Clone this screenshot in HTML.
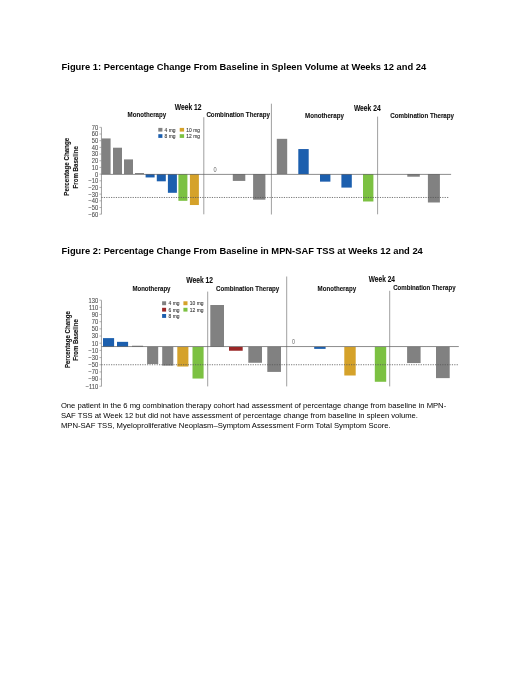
<!DOCTYPE html>
<html><head><meta charset="utf-8"><title>Figures</title>
<style>
html,body{margin:0;padding:0;background:#fff;}
svg{display:block;font-family:"Liberation Sans",sans-serif;}
text{white-space:pre;}
</style></head>
<body>
<svg width="520" height="673" viewBox="0 0 520 673">
<defs><filter id="soft" x="0" y="0" width="520" height="673" filterUnits="userSpaceOnUse"><feGaussianBlur stdDeviation="0.45"/></filter></defs>
<rect width="520" height="673" fill="#ffffff"/>
<text x="61.6" y="70" font-size="9.35" font-weight="bold" fill="#000" text-anchor="start" textLength="364.6" lengthAdjust="spacingAndGlyphs">Figure 1: Percentage Change From Baseline in Spleen Volume at Weeks 12 and 24</text>
<text x="61.6" y="253.7" font-size="9.35" font-weight="bold" fill="#000" text-anchor="start" textLength="361.2" lengthAdjust="spacingAndGlyphs">Figure 2: Percentage Change From Baseline in MPN-SAF TSS at Weeks 12 and 24</text>
<g id="fig1" filter="url(#soft)">
<text x="98.15" y="129.73999999999998" font-size="7.4" font-weight="normal" fill="#505050" text-anchor="end" textLength="6.42" lengthAdjust="spacingAndGlyphs" stroke="#505050" stroke-width="0.12">70</text>
<text x="98.15" y="136.42" font-size="7.4" font-weight="normal" fill="#505050" text-anchor="end" textLength="6.42" lengthAdjust="spacingAndGlyphs" stroke="#505050" stroke-width="0.12">60</text>
<text x="98.15" y="143.1" font-size="7.4" font-weight="normal" fill="#505050" text-anchor="end" textLength="6.42" lengthAdjust="spacingAndGlyphs" stroke="#505050" stroke-width="0.12">50</text>
<text x="98.15" y="149.78" font-size="7.4" font-weight="normal" fill="#505050" text-anchor="end" textLength="6.42" lengthAdjust="spacingAndGlyphs" stroke="#505050" stroke-width="0.12">40</text>
<text x="98.15" y="156.46" font-size="7.4" font-weight="normal" fill="#505050" text-anchor="end" textLength="6.42" lengthAdjust="spacingAndGlyphs" stroke="#505050" stroke-width="0.12">30</text>
<text x="98.15" y="163.14" font-size="7.4" font-weight="normal" fill="#505050" text-anchor="end" textLength="6.42" lengthAdjust="spacingAndGlyphs" stroke="#505050" stroke-width="0.12">20</text>
<text x="98.15" y="169.82" font-size="7.4" font-weight="normal" fill="#505050" text-anchor="end" textLength="6.42" lengthAdjust="spacingAndGlyphs" stroke="#505050" stroke-width="0.12">10</text>
<text x="98.15" y="176.5" font-size="7.4" font-weight="normal" fill="#505050" text-anchor="end" textLength="3.21" lengthAdjust="spacingAndGlyphs" stroke="#505050" stroke-width="0.12">0</text>
<text x="98.15" y="183.18" font-size="7.4" font-weight="normal" fill="#505050" text-anchor="end" textLength="9.79" lengthAdjust="spacingAndGlyphs" stroke="#505050" stroke-width="0.12">−10</text>
<text x="98.15" y="189.86" font-size="7.4" font-weight="normal" fill="#505050" text-anchor="end" textLength="9.79" lengthAdjust="spacingAndGlyphs" stroke="#505050" stroke-width="0.12">−20</text>
<text x="98.15" y="196.54" font-size="7.4" font-weight="normal" fill="#505050" text-anchor="end" textLength="9.79" lengthAdjust="spacingAndGlyphs" stroke="#505050" stroke-width="0.12">−30</text>
<text x="98.15" y="203.22" font-size="7.4" font-weight="normal" fill="#505050" text-anchor="end" textLength="9.79" lengthAdjust="spacingAndGlyphs" stroke="#505050" stroke-width="0.12">−40</text>
<text x="98.15" y="209.9" font-size="7.4" font-weight="normal" fill="#505050" text-anchor="end" textLength="9.79" lengthAdjust="spacingAndGlyphs" stroke="#505050" stroke-width="0.12">−50</text>
<text x="98.15" y="216.58" font-size="7.4" font-weight="normal" fill="#505050" text-anchor="end" textLength="9.79" lengthAdjust="spacingAndGlyphs" stroke="#505050" stroke-width="0.12">−60</text>
<g transform="translate(69.3,166.8) rotate(-90)">
<text x="0" y="0" font-size="7.8" font-weight="bold" fill="#111111" text-anchor="middle" textLength="57.8" lengthAdjust="spacingAndGlyphs" stroke="#111111" stroke-width="0.12">Percentage Change</text>
</g>
<g transform="translate(78.4,167.3) rotate(-90)">
<text x="0" y="0" font-size="7.8" font-weight="bold" fill="#111111" text-anchor="middle" textLength="42.3" lengthAdjust="spacingAndGlyphs" stroke="#111111" stroke-width="0.12">From Baseline</text>
</g>
<text x="174.7" y="110.1" font-size="8.2" font-weight="bold" fill="#111111" text-anchor="start" textLength="26.79" lengthAdjust="spacingAndGlyphs" stroke="#111111" stroke-width="0.1">Week 12</text>
<text x="353.9" y="110.6" font-size="8.2" font-weight="bold" fill="#111111" text-anchor="start" textLength="26.79" lengthAdjust="spacingAndGlyphs" stroke="#111111" stroke-width="0.1">Week 24</text>
<text x="127.6" y="116.8" font-size="7.4" font-weight="bold" fill="#111111" text-anchor="start" textLength="38.56" lengthAdjust="spacingAndGlyphs" stroke="#111111" stroke-width="0.1">Monotherapy</text>
<text x="206.4" y="116.8" font-size="7.4" font-weight="bold" fill="#111111" text-anchor="start" textLength="63.51" lengthAdjust="spacingAndGlyphs" stroke="#111111" stroke-width="0.1">Combination Therapy</text>
<text x="305.1" y="118.3" font-size="7.4" font-weight="bold" fill="#111111" text-anchor="start" textLength="38.79" lengthAdjust="spacingAndGlyphs" stroke="#111111" stroke-width="0.1">Monotherapy</text>
<text x="390.3" y="118.3" font-size="7.4" font-weight="bold" fill="#111111" text-anchor="start" textLength="63.74" lengthAdjust="spacingAndGlyphs" stroke="#111111" stroke-width="0.1">Combination Therapy</text>
<rect x="158.30" y="127.90" width="4.10" height="3.70" fill="#818181"/>
<text x="164.6" y="131.8" font-size="6.0" font-weight="normal" fill="#3a3a3a" text-anchor="start" textLength="10.94" lengthAdjust="spacingAndGlyphs" stroke="#3a3a3a" stroke-width="0.12">4 mg</text>
<rect x="179.70" y="127.90" width="4.40" height="3.70" fill="#d5a22c"/>
<text x="186.3" y="131.8" font-size="6.0" font-weight="normal" fill="#3a3a3a" text-anchor="start" textLength="13.67" lengthAdjust="spacingAndGlyphs" stroke="#3a3a3a" stroke-width="0.12">10 mg</text>
<rect x="158.30" y="134.20" width="4.10" height="3.70" fill="#1c5fae"/>
<text x="164.6" y="138.0" font-size="6.0" font-weight="normal" fill="#3a3a3a" text-anchor="start" textLength="10.94" lengthAdjust="spacingAndGlyphs" stroke="#3a3a3a" stroke-width="0.12">8 mg</text>
<rect x="179.70" y="134.20" width="4.40" height="3.70" fill="#7cc142"/>
<text x="186.3" y="138.0" font-size="6.0" font-weight="normal" fill="#3a3a3a" text-anchor="start" textLength="13.67" lengthAdjust="spacingAndGlyphs" stroke="#3a3a3a" stroke-width="0.12">12 mg</text>
<rect x="101.60" y="138.43" width="9.00" height="35.67" fill="#818181"/>
<rect x="113.00" y="147.71" width="9.00" height="26.39" fill="#818181"/>
<rect x="124.00" y="159.40" width="9.00" height="14.70" fill="#818181"/>
<rect x="135.00" y="173.03" width="9.00" height="1.07" fill="#818181"/>
<rect x="145.60" y="174.10" width="9.00" height="3.34" fill="#1c5fae"/>
<rect x="156.80" y="174.10" width="9.00" height="7.21" fill="#1c5fae"/>
<rect x="167.90" y="174.10" width="9.00" height="18.70" fill="#1c5fae"/>
<rect x="178.40" y="174.10" width="9.00" height="26.72" fill="#7cc142"/>
<rect x="189.90" y="174.10" width="9.00" height="30.93" fill="#d5a22c"/>
<text x="213.5" y="172.1" font-size="6.3" font-weight="normal" fill="#666666" text-anchor="start" textLength="3.15" lengthAdjust="spacingAndGlyphs" stroke="#666666" stroke-width="0">0</text>
<rect x="232.80" y="174.10" width="12.50" height="6.81" fill="#818181"/>
<rect x="253.10" y="174.10" width="12.30" height="25.58" fill="#818181"/>
<rect x="276.80" y="138.83" width="10.40" height="35.27" fill="#818181"/>
<rect x="298.30" y="149.05" width="10.40" height="25.05" fill="#1c5fae"/>
<rect x="320.00" y="174.10" width="10.40" height="7.55" fill="#1c5fae"/>
<rect x="341.40" y="174.10" width="10.40" height="13.49" fill="#1c5fae"/>
<rect x="363.00" y="174.10" width="10.40" height="27.39" fill="#7cc142"/>
<rect x="407.30" y="174.10" width="12.50" height="2.61" fill="#818181"/>
<rect x="427.90" y="174.10" width="12.00" height="28.39" fill="#818181"/>
</g>
<g id="fig2" filter="url(#soft)">
<text x="98.15" y="302.5625" font-size="7.4" font-weight="normal" fill="#505050" text-anchor="end" textLength="9.63" lengthAdjust="spacingAndGlyphs" stroke="#505050" stroke-width="0.12">130</text>
<text x="98.15" y="309.7375" font-size="7.4" font-weight="normal" fill="#505050" text-anchor="end" textLength="9.2" lengthAdjust="spacingAndGlyphs" stroke="#505050" stroke-width="0.12">110</text>
<text x="98.15" y="316.91249999999997" font-size="7.4" font-weight="normal" fill="#505050" text-anchor="end" textLength="6.42" lengthAdjust="spacingAndGlyphs" stroke="#505050" stroke-width="0.12">90</text>
<text x="98.15" y="324.0875" font-size="7.4" font-weight="normal" fill="#505050" text-anchor="end" textLength="6.42" lengthAdjust="spacingAndGlyphs" stroke="#505050" stroke-width="0.12">70</text>
<text x="98.15" y="331.2625" font-size="7.4" font-weight="normal" fill="#505050" text-anchor="end" textLength="6.42" lengthAdjust="spacingAndGlyphs" stroke="#505050" stroke-width="0.12">50</text>
<text x="98.15" y="338.4375" font-size="7.4" font-weight="normal" fill="#505050" text-anchor="end" textLength="6.42" lengthAdjust="spacingAndGlyphs" stroke="#505050" stroke-width="0.12">30</text>
<text x="98.15" y="345.6125" font-size="7.4" font-weight="normal" fill="#505050" text-anchor="end" textLength="6.42" lengthAdjust="spacingAndGlyphs" stroke="#505050" stroke-width="0.12">10</text>
<text x="98.15" y="352.78749999999997" font-size="7.4" font-weight="normal" fill="#505050" text-anchor="end" textLength="9.79" lengthAdjust="spacingAndGlyphs" stroke="#505050" stroke-width="0.12">−10</text>
<text x="98.15" y="359.9625" font-size="7.4" font-weight="normal" fill="#505050" text-anchor="end" textLength="9.79" lengthAdjust="spacingAndGlyphs" stroke="#505050" stroke-width="0.12">−30</text>
<text x="98.15" y="367.1375" font-size="7.4" font-weight="normal" fill="#505050" text-anchor="end" textLength="9.79" lengthAdjust="spacingAndGlyphs" stroke="#505050" stroke-width="0.12">−50</text>
<text x="98.15" y="374.3125" font-size="7.4" font-weight="normal" fill="#505050" text-anchor="end" textLength="9.79" lengthAdjust="spacingAndGlyphs" stroke="#505050" stroke-width="0.12">−70</text>
<text x="98.15" y="381.4875" font-size="7.4" font-weight="normal" fill="#505050" text-anchor="end" textLength="9.79" lengthAdjust="spacingAndGlyphs" stroke="#505050" stroke-width="0.12">−90</text>
<text x="98.15" y="388.66249999999997" font-size="7.4" font-weight="normal" fill="#505050" text-anchor="end" textLength="12.57" lengthAdjust="spacingAndGlyphs" stroke="#505050" stroke-width="0.12">−110</text>
<g transform="translate(69.5,339.6) rotate(-90)">
<text x="0" y="0" font-size="7.8" font-weight="bold" fill="#111111" text-anchor="middle" textLength="57.0" lengthAdjust="spacingAndGlyphs" stroke="#111111" stroke-width="0.12">Percentage Change</text>
</g>
<g transform="translate(78.4,340.0) rotate(-90)">
<text x="0" y="0" font-size="7.8" font-weight="bold" fill="#111111" text-anchor="middle" textLength="41.5" lengthAdjust="spacingAndGlyphs" stroke="#111111" stroke-width="0.12">From Baseline</text>
</g>
<text x="186.3" y="282.5" font-size="8.2" font-weight="bold" fill="#111111" text-anchor="start" textLength="26.79" lengthAdjust="spacingAndGlyphs" stroke="#111111" stroke-width="0.1">Week 12</text>
<text x="368.8" y="282.4" font-size="8.2" font-weight="bold" fill="#111111" text-anchor="start" textLength="26.14" lengthAdjust="spacingAndGlyphs" stroke="#111111" stroke-width="0.1">Week 24</text>
<text x="132.4" y="290.5" font-size="7.4" font-weight="bold" fill="#111111" text-anchor="start" textLength="38.1" lengthAdjust="spacingAndGlyphs" stroke="#111111" stroke-width="0.1">Monotherapy</text>
<text x="216.0" y="290.5" font-size="7.4" font-weight="bold" fill="#111111" text-anchor="start" textLength="63.28" lengthAdjust="spacingAndGlyphs" stroke="#111111" stroke-width="0.1">Combination Therapy</text>
<text x="317.6" y="290.5" font-size="7.4" font-weight="bold" fill="#111111" text-anchor="start" textLength="38.47" lengthAdjust="spacingAndGlyphs" stroke="#111111" stroke-width="0.1">Monotherapy</text>
<text x="393.2" y="290.0" font-size="7.4" font-weight="bold" fill="#111111" text-anchor="start" textLength="62.37" lengthAdjust="spacingAndGlyphs" stroke="#111111" stroke-width="0.1">Combination Therapy</text>
<rect x="162.10" y="301.30" width="4.00" height="3.90" fill="#818181"/>
<text x="168.6" y="305.3" font-size="6.0" font-weight="normal" fill="#3a3a3a" text-anchor="start" textLength="10.94" lengthAdjust="spacingAndGlyphs" stroke="#3a3a3a" stroke-width="0.12">4 mg</text>
<rect x="183.40" y="301.30" width="4.10" height="3.90" fill="#d5a22c"/>
<text x="189.8" y="305.3" font-size="6.0" font-weight="normal" fill="#3a3a3a" text-anchor="start" textLength="13.67" lengthAdjust="spacingAndGlyphs" stroke="#3a3a3a" stroke-width="0.12">10 mg</text>
<rect x="162.10" y="307.80" width="4.00" height="3.80" fill="#9b2828"/>
<text x="168.6" y="311.8" font-size="6.0" font-weight="normal" fill="#3a3a3a" text-anchor="start" textLength="10.94" lengthAdjust="spacingAndGlyphs" stroke="#3a3a3a" stroke-width="0.12">6 mg</text>
<rect x="183.40" y="307.80" width="4.10" height="3.80" fill="#7cc142"/>
<text x="189.8" y="311.8" font-size="6.0" font-weight="normal" fill="#3a3a3a" text-anchor="start" textLength="13.67" lengthAdjust="spacingAndGlyphs" stroke="#3a3a3a" stroke-width="0.12">12 mg</text>
<rect x="162.10" y="314.00" width="4.00" height="3.90" fill="#1c5fae"/>
<text x="168.6" y="318.2" font-size="6.0" font-weight="normal" fill="#3a3a3a" text-anchor="start" textLength="10.94" lengthAdjust="spacingAndGlyphs" stroke="#3a3a3a" stroke-width="0.12">8 mg</text>
<rect x="103.00" y="338.12" width="11.10" height="8.68" fill="#1c5fae"/>
<rect x="117.00" y="341.85" width="11.10" height="4.95" fill="#1c5fae"/>
<rect x="132.00" y="345.72" width="11.10" height="1.08" fill="#818181"/>
<rect x="147.10" y="346.80" width="11.10" height="17.22" fill="#818181"/>
<rect x="162.20" y="346.80" width="11.10" height="18.83" fill="#818181"/>
<rect x="177.30" y="346.80" width="11.10" height="19.73" fill="#d5a22c"/>
<rect x="192.50" y="346.80" width="11.10" height="31.75" fill="#7cc142"/>
<rect x="210.30" y="305.01" width="13.70" height="41.79" fill="#818181"/>
<rect x="229.00" y="346.80" width="13.70" height="3.95" fill="#9b2828"/>
<rect x="248.30" y="346.80" width="13.70" height="15.96" fill="#818181"/>
<rect x="267.30" y="346.80" width="13.70" height="25.11" fill="#818181"/>
<text x="292.0" y="344.0" font-size="6.3" font-weight="normal" fill="#666666" text-anchor="start" textLength="2.98" lengthAdjust="spacingAndGlyphs" stroke="#666666" stroke-width="0">0</text>
<rect x="314.20" y="346.80" width="11.40" height="2.08" fill="#1c5fae"/>
<rect x="344.30" y="346.80" width="11.40" height="28.70" fill="#d5a22c"/>
<rect x="374.80" y="346.80" width="11.40" height="34.98" fill="#7cc142"/>
<rect x="407.10" y="346.80" width="13.50" height="16.25" fill="#818181"/>
<rect x="436.00" y="346.80" width="13.70" height="31.32" fill="#818181"/>
</g>
<text x="60.9" y="408.2" font-size="7.63" font-weight="normal" fill="#000" text-anchor="start" textLength="385.3" lengthAdjust="spacingAndGlyphs">One patient in the 6 mg combination therapy cohort had assessment of percentage change from baseline in MPN-</text>
<text x="60.9" y="418.2" font-size="7.63" font-weight="normal" fill="#000" text-anchor="start" textLength="357.1" lengthAdjust="spacingAndGlyphs">SAF TSS at Week 12 but did not have assessment of percentage change from baseline in spleen volume.</text>
<text x="60.9" y="428.2" font-size="7.63" font-weight="normal" fill="#000" text-anchor="start" textLength="329.8" lengthAdjust="spacingAndGlyphs">MPN-SAF TSS, Myeloproliferative Neoplasm–Symptom Assessment Form Total Symptom Score.</text>
<g id="rules">
<line x1="101.45" y1="127.40" x2="101.45" y2="214.30" stroke="#808080" stroke-width="0.75"/>
<line x1="99.45" y1="127.34" x2="101.45" y2="127.34" stroke="#808080" stroke-width="0.6"/>
<line x1="99.45" y1="134.02" x2="101.45" y2="134.02" stroke="#808080" stroke-width="0.6"/>
<line x1="99.45" y1="140.70" x2="101.45" y2="140.70" stroke="#808080" stroke-width="0.6"/>
<line x1="99.45" y1="147.38" x2="101.45" y2="147.38" stroke="#808080" stroke-width="0.6"/>
<line x1="99.45" y1="154.06" x2="101.45" y2="154.06" stroke="#808080" stroke-width="0.6"/>
<line x1="99.45" y1="160.74" x2="101.45" y2="160.74" stroke="#808080" stroke-width="0.6"/>
<line x1="99.45" y1="167.42" x2="101.45" y2="167.42" stroke="#808080" stroke-width="0.6"/>
<line x1="99.45" y1="174.10" x2="101.45" y2="174.10" stroke="#808080" stroke-width="0.6"/>
<line x1="99.45" y1="180.78" x2="101.45" y2="180.78" stroke="#808080" stroke-width="0.6"/>
<line x1="99.45" y1="187.46" x2="101.45" y2="187.46" stroke="#808080" stroke-width="0.6"/>
<line x1="99.45" y1="194.14" x2="101.45" y2="194.14" stroke="#808080" stroke-width="0.6"/>
<line x1="99.45" y1="200.82" x2="101.45" y2="200.82" stroke="#808080" stroke-width="0.6"/>
<line x1="99.45" y1="207.50" x2="101.45" y2="207.50" stroke="#808080" stroke-width="0.6"/>
<line x1="99.45" y1="214.18" x2="101.45" y2="214.18" stroke="#808080" stroke-width="0.6"/>
<line x1="203.80" y1="117.20" x2="203.80" y2="214.30" stroke="#808080" stroke-width="0.75"/>
<line x1="271.40" y1="103.70" x2="271.40" y2="214.50" stroke="#808080" stroke-width="0.75"/>
<line x1="377.60" y1="116.60" x2="377.60" y2="214.30" stroke="#808080" stroke-width="0.75"/>
<line x1="101.45" y1="174.40" x2="451.10" y2="174.40" stroke="#606060" stroke-width="0.72"/>
<line x1="101.45" y1="197.48" x2="449.00" y2="197.48" stroke="#555" stroke-width="0.8" stroke-dasharray="1.2 1.2"/>
<line x1="101.45" y1="300.30" x2="101.45" y2="386.40" stroke="#808080" stroke-width="0.75"/>
<line x1="99.45" y1="300.16" x2="101.45" y2="300.16" stroke="#808080" stroke-width="0.6"/>
<line x1="99.45" y1="307.34" x2="101.45" y2="307.34" stroke="#808080" stroke-width="0.6"/>
<line x1="99.45" y1="314.51" x2="101.45" y2="314.51" stroke="#808080" stroke-width="0.6"/>
<line x1="99.45" y1="321.69" x2="101.45" y2="321.69" stroke="#808080" stroke-width="0.6"/>
<line x1="99.45" y1="328.86" x2="101.45" y2="328.86" stroke="#808080" stroke-width="0.6"/>
<line x1="99.45" y1="336.04" x2="101.45" y2="336.04" stroke="#808080" stroke-width="0.6"/>
<line x1="99.45" y1="343.21" x2="101.45" y2="343.21" stroke="#808080" stroke-width="0.6"/>
<line x1="99.45" y1="350.39" x2="101.45" y2="350.39" stroke="#808080" stroke-width="0.6"/>
<line x1="99.45" y1="357.56" x2="101.45" y2="357.56" stroke="#808080" stroke-width="0.6"/>
<line x1="99.45" y1="364.74" x2="101.45" y2="364.74" stroke="#808080" stroke-width="0.6"/>
<line x1="99.45" y1="371.91" x2="101.45" y2="371.91" stroke="#808080" stroke-width="0.6"/>
<line x1="99.45" y1="379.09" x2="101.45" y2="379.09" stroke="#808080" stroke-width="0.6"/>
<line x1="99.45" y1="386.26" x2="101.45" y2="386.26" stroke="#808080" stroke-width="0.6"/>
<line x1="207.70" y1="291.60" x2="207.70" y2="386.40" stroke="#808080" stroke-width="0.75"/>
<line x1="286.70" y1="276.50" x2="286.70" y2="386.40" stroke="#808080" stroke-width="0.75"/>
<line x1="389.70" y1="290.80" x2="389.70" y2="386.40" stroke="#808080" stroke-width="0.75"/>
<line x1="101.45" y1="346.55" x2="458.80" y2="346.55" stroke="#606060" stroke-width="0.72"/>
<line x1="101.45" y1="364.74" x2="458.40" y2="364.74" stroke="#555" stroke-width="0.8" stroke-dasharray="1.2 1.2"/>
</g>
</svg>
</body></html>
